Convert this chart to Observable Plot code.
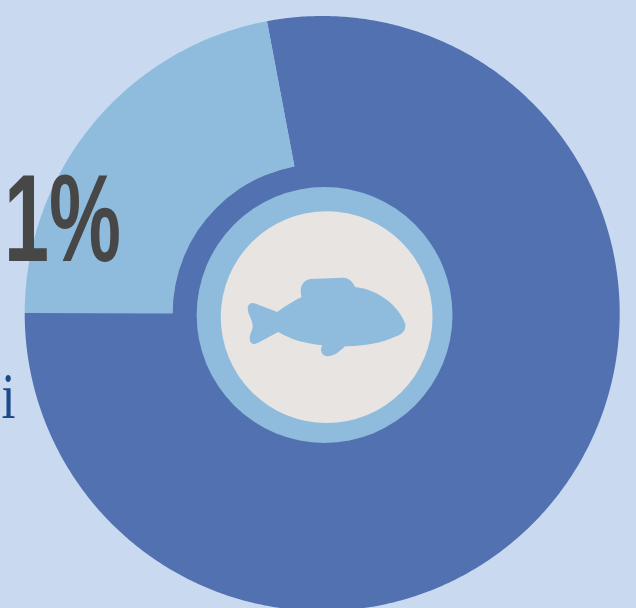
<!DOCTYPE html>
<html><head><meta charset="utf-8">
<script src="https://cdn.jsdelivr.net/npm/d3@7"></script>
<script src="https://cdn.jsdelivr.net/npm/@observablehq/plot@0.6"></script>
<style>html,body{margin:0;padding:0;background:#c9daf0;overflow:hidden}svg{display:block}</style>
</head><body>
<script>
const sliceNames = ["Dark", "Light"];
const sliceShares = [78, 22];
const sliceColors = ["#5271b0", "#8fbbdd"];
const sliceInner = [0.45, 0.503];
const startDegrees = -10.7;
const discNames = ["hub", "ring", "core"];
const discX = [0, 0.008, 0.015];
const discY = [0, -0.005, -0.012];
const discR = [0.503, 0.43, 0.356];
const discColors = ["#5271b0", "#8fbbdd", "#e7e4e1"];
const fishX = [0.015];
const fishY = [-0.012];
const fishSize = [0.15];
const fishColor = "#8fbbdd";
const bigLabel = ["1%"];
const cutLabel = ["i"];

const W = 636, H = 608, R = 297.5, cx = 321.7, cy = 313;

const pie = d3.pie().sort(null).startAngle(startDegrees * Math.PI / 180)
  .endAngle((startDegrees + 360) * Math.PI / 180)(sliceShares);
const slicePoints = pie.flatMap((a, i) => {
  const n = Math.ceil((a.endAngle - a.startAngle) * 180 / Math.PI) * 2;
  const pts = [];
  for (let k = 0; k <= n; k++) { const t = a.startAngle + (a.endAngle - a.startAngle) * k / n;
    pts.push({slice: sliceNames[i], x: Math.sin(t), y: Math.cos(t)}); }
  for (let k = n; k >= 0; k--) { const t = a.startAngle + (a.endAngle - a.startAngle) * k / n;
    pts.push({slice: sliceNames[i], x: sliceInner[i] * Math.sin(t), y: sliceInner[i] * Math.cos(t)}); }
  return pts;
});
const discs = discNames.map((n, i) => ({name: n, x: discX[i], y: discY[i], r: discR[i], color: discColors[i]}));

const fishSymbol = {
  draw(c, size) {
    const s = Math.sqrt(size / Math.PI) / 44.5 / 3;
    const P = (x, y) => [(x - 410) * s, (y - 410) * s];
    const M = (x, y) => c.moveTo(...P(x, y));
    const L = (x, y) => c.lineTo(...P(x, y));
    const C = (a, b, d, e, f, g) => c.bezierCurveTo(...P(a, b), ...P(d, e), ...P(f, g));
    M(175, 378); C(178, 368, 186, 365, 198, 370); L(262, 395); C(285, 378, 310, 362, 335, 350);
    C(328, 325, 335, 300, 362, 296); L(458, 292); C(478, 292, 488, 305, 495, 320);
    C(565, 328, 625, 375, 645, 430); C(648, 450, 635, 460, 620, 467); C(570, 490, 515, 498, 465, 497);
    C(450, 510, 435, 527, 412, 527); C(395, 527, 388, 508, 397, 494); C(345, 490, 305, 478, 265, 455);
    L(205, 487); C(190, 495, 178, 488, 180, 470); C(182, 455, 192, 445, 188, 430); C(184, 410, 170, 395, 175, 378);
    c.closePath();
  }
};

const chart = Plot.plot({
  width: W, height: H, margin: 0,
  style: {background: "transparent"},
  x: {domain: [-cx / R, (W - cx) / R], range: [0, W], axis: null},
  y: {domain: [cy / R, -(H - cy) / R], range: [0, H], axis: null},
  r: {type: "linear", domain: [0, 1], range: [0, R]},
  color: {domain: sliceNames, range: sliceColors},
  marks: [
    Plot.line(slicePoints, {x: "x", y: "y", fill: "slice", z: "slice"}),
    Plot.dot(discs, {x: "x", y: "y", r: "r", fill: d => d.color, stroke: null}),
    Plot.dot(fishSize, {x: (d, i) => fishX[i], y: (d, i) => fishY[i], r: d => d, fill: fishColor, stroke: null, symbol: fishSymbol}),
    Plot.text(bigLabel, {x: -1.07, y: 0.312, text: d => d, textAnchor: "start", lineAnchor: "middle", fontFamily: "'Liberation Sans'", fontSize: 125, fontWeight: 700, fill: "#474747", className: "big"}),
    Plot.text(cutLabel, {x: -1.078, y: -0.28, text: d => d, textAnchor: "start", lineAnchor: "middle", fontFamily: "'Liberation Serif'", fontSize: 65, fill: "#1a4a8a", className: "cut"})
  ]
});
const fit = (sel, len) => { const t = chart.querySelector(sel); if (t) { t.setAttribute("textLength", len); t.setAttribute("lengthAdjust", "spacingAndGlyphs"); } };
fit(".big text", 117);
fit(".cut text", 14);
document.body.appendChild(chart);
</script>
</body></html>
